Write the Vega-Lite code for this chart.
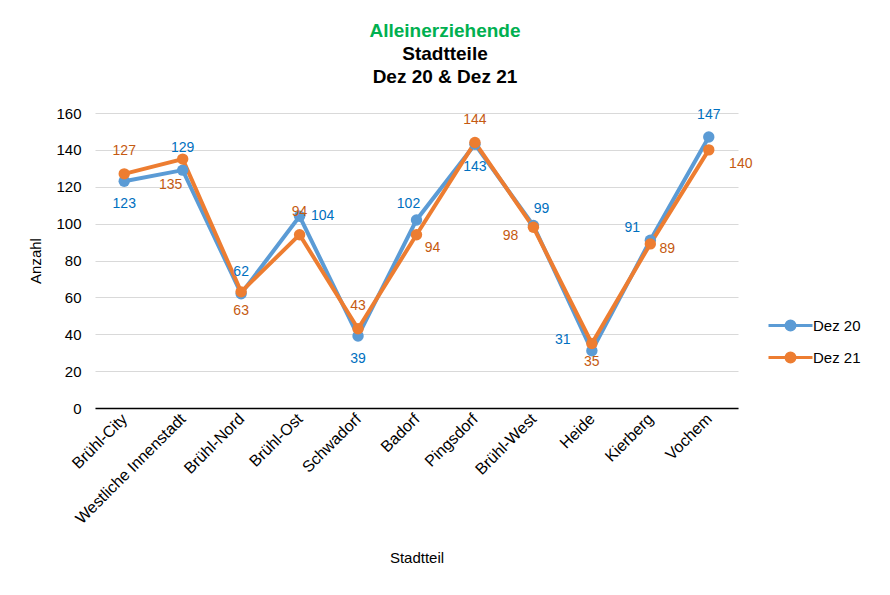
{
  "$schema": "https://vega.github.io/schema/vega-lite/v6.json",
  "width": 643,
  "height": 295,
  "autosize": "none",
  "padding": {"left": 95, "top": 113, "right": 152, "bottom": 187},
  "background": "white",
  "title": {
    "text": "Alleinerziehende",
    "subtitle": ["Stadtteile", "Dez 20 & Dez 21"],
    "color": "#00B050",
    "fontSize": 19,
    "font": "Liberation Sans",
    "fontWeight": "bold",
    "subtitleColor": "#000000",
    "subtitleFontSize": 19,
    "subtitleFont": "Liberation Sans",
    "subtitleFontWeight": "bold",
    "subtitleLineHeight": 23,
    "subtitlePadding": 4,
    "anchor": "middle",
    "frame": "bounds",
    "offset": 19
  },
  "config": {
    "font": "Liberation Sans",
    "view": {"stroke": null},
    "axis": {"labelFont": "Liberation Sans", "titleFont": "Liberation Sans", "labelFontSize": 15, "titleFontSize": 15, "titleFontWeight": "normal", "labelColor": "#000000", "titleColor": "#000000"},
    "legend": {"labelFont": "Liberation Sans", "labelFontSize": 15, "labelColor": "#000000"}
  },
  "data": {
    "values": [
      {"Stadtteil": "Brühl-City", "Jahr": "Dez 20", "Anzahl": 123},
      {"Stadtteil": "Westliche Innenstadt", "Jahr": "Dez 20", "Anzahl": 129},
      {"Stadtteil": "Brühl-Nord", "Jahr": "Dez 20", "Anzahl": 62},
      {"Stadtteil": "Brühl-Ost", "Jahr": "Dez 20", "Anzahl": 104},
      {"Stadtteil": "Schwadorf", "Jahr": "Dez 20", "Anzahl": 39},
      {"Stadtteil": "Badorf", "Jahr": "Dez 20", "Anzahl": 102},
      {"Stadtteil": "Pingsdorf", "Jahr": "Dez 20", "Anzahl": 143},
      {"Stadtteil": "Brühl-West", "Jahr": "Dez 20", "Anzahl": 99},
      {"Stadtteil": "Heide", "Jahr": "Dez 20", "Anzahl": 31},
      {"Stadtteil": "Kierberg", "Jahr": "Dez 20", "Anzahl": 91},
      {"Stadtteil": "Vochem", "Jahr": "Dez 20", "Anzahl": 147},
      {"Stadtteil": "Brühl-City", "Jahr": "Dez 21", "Anzahl": 127},
      {"Stadtteil": "Westliche Innenstadt", "Jahr": "Dez 21", "Anzahl": 135},
      {"Stadtteil": "Brühl-Nord", "Jahr": "Dez 21", "Anzahl": 63},
      {"Stadtteil": "Brühl-Ost", "Jahr": "Dez 21", "Anzahl": 94},
      {"Stadtteil": "Schwadorf", "Jahr": "Dez 21", "Anzahl": 43},
      {"Stadtteil": "Badorf", "Jahr": "Dez 21", "Anzahl": 94},
      {"Stadtteil": "Pingsdorf", "Jahr": "Dez 21", "Anzahl": 144},
      {"Stadtteil": "Brühl-West", "Jahr": "Dez 21", "Anzahl": 98},
      {"Stadtteil": "Heide", "Jahr": "Dez 21", "Anzahl": 35},
      {"Stadtteil": "Kierberg", "Jahr": "Dez 21", "Anzahl": 89},
      {"Stadtteil": "Vochem", "Jahr": "Dez 21", "Anzahl": 140}
    ]
  },
  "encoding": {
    "x": {
      "field": "Stadtteil",
      "type": "nominal",
      "sort": ["Brühl-City", "Westliche Innenstadt", "Brühl-Nord", "Brühl-Ost", "Schwadorf", "Badorf", "Pingsdorf", "Brühl-West", "Heide", "Kierberg", "Vochem"],
      "scale": {"type": "point", "padding": 0.5},
      "axis": {"title": "Stadtteil", "labelAngle": -45, "labelAlign": "right", "labelBaseline": "middle", "labelFontSize": 16, "ticks": false, "labelPadding": 8, "domainColor": "#000000", "domainWidth": 1.5, "titlePadding": 24, "grid": false}
    },
    "y": {
      "field": "Anzahl",
      "type": "quantitative",
      "scale": {"domain": [0, 160]},
      "axis": {"title": "Anzahl", "values": [0, 20, 40, 60, 80, 100, 120, 140, 160], "domain": false, "ticks": false, "labelPadding": 14, "gridColor": "#D9D9D9", "gridWidth": 1, "titlePadding": 12}
    }
  },
  "layer": [
    {
      "mark": {"type": "line", "strokeWidth": 4, "point": {"filled": true, "size": 130}},
      "encoding": {
        "color": {
          "field": "Jahr",
          "type": "nominal",
          "scale": {"domain": ["Dez 20", "Dez 21"], "range": ["#5B9BD5", "#ED7D31"]},
          "legend": {
            "orient": "none",
            "legendX": 678,
            "legendY": 195,
            "title": null,
            "symbolType": "M-1.375,0H1.375M0.28,0A0.28,0.28,0,1,1,-0.28,0A0.28,0.28,0,1,1,0.28,0Z",
            "symbolSize": 1024,
            "symbolStrokeWidth": 3,
            "rowPadding": 4,
            "labelOffset": 5,
            "encode": {"symbols": {"update": {"fill": {"scale": "color", "field": "value"}}}}
          }
        }
      }
    },
    {"transform": [{"filter": "datum.Jahr === 'Dez 20' && indexof(['Westliche Innenstadt','Brühl-Nord','Vochem'], datum.Stadtteil) >= 0"}],
     "mark": {"type": "text", "fontSize": 14, "color": "#0070C0", "dy": -22}, "encoding": {"text": {"field": "Anzahl"}}},
    {"transform": [{"filter": "datum.Jahr === 'Dez 20' && indexof(['Brühl-City','Schwadorf','Pingsdorf'], datum.Stadtteil) >= 0"}],
     "mark": {"type": "text", "fontSize": 14, "color": "#0070C0", "dy": 23}, "encoding": {"text": {"field": "Anzahl"}}},
    {"transform": [{"filter": "datum.Jahr === 'Dez 20' && datum.Stadtteil === 'Brühl-Ost'"}],
     "mark": {"type": "text", "fontSize": 14, "color": "#0070C0", "dx": 23, "dy": 0}, "encoding": {"text": {"field": "Anzahl"}}},
    {"transform": [{"filter": "datum.Jahr === 'Dez 20' && datum.Stadtteil === 'Badorf'"}],
     "mark": {"type": "text", "fontSize": 14, "color": "#0070C0", "dx": -8, "dy": -16}, "encoding": {"text": {"field": "Anzahl"}}},
    {"transform": [{"filter": "datum.Jahr === 'Dez 20' && datum.Stadtteil === 'Brühl-West'"}],
     "mark": {"type": "text", "fontSize": 14, "color": "#0070C0", "dx": 8, "dy": -16}, "encoding": {"text": {"field": "Anzahl"}}},
    {"transform": [{"filter": "datum.Jahr === 'Dez 20' && datum.Stadtteil === 'Heide'"}],
     "mark": {"type": "text", "fontSize": 14, "color": "#0070C0", "dx": -29, "dy": -11}, "encoding": {"text": {"field": "Anzahl"}}},
    {"transform": [{"filter": "datum.Jahr === 'Dez 20' && datum.Stadtteil === 'Kierberg'"}],
     "mark": {"type": "text", "fontSize": 14, "color": "#0070C0", "dx": -18, "dy": -12}, "encoding": {"text": {"field": "Anzahl"}}},
    {"transform": [{"filter": "datum.Jahr === 'Dez 21' && indexof(['Brühl-City','Brühl-Ost','Schwadorf','Pingsdorf'], datum.Stadtteil) >= 0"}],
     "mark": {"type": "text", "fontSize": 14, "color": "#C55A11", "dy": -23}, "encoding": {"text": {"field": "Anzahl"}}},
    {"transform": [{"filter": "datum.Jahr === 'Dez 21' && indexof(['Brühl-Nord','Heide'], datum.Stadtteil) >= 0"}],
     "mark": {"type": "text", "fontSize": 14, "color": "#C55A11", "dy": 19}, "encoding": {"text": {"field": "Anzahl"}}},
    {"transform": [{"filter": "datum.Jahr === 'Dez 21' && datum.Stadtteil === 'Westliche Innenstadt'"}],
     "mark": {"type": "text", "fontSize": 14, "color": "#C55A11", "dx": -12, "dy": 26}, "encoding": {"text": {"field": "Anzahl"}}},
    {"transform": [{"filter": "datum.Jahr === 'Dez 21' && datum.Stadtteil === 'Badorf'"}],
     "mark": {"type": "text", "fontSize": 14, "color": "#C55A11", "dx": 16, "dy": 13}, "encoding": {"text": {"field": "Anzahl"}}},
    {"transform": [{"filter": "datum.Jahr === 'Dez 21' && datum.Stadtteil === 'Kierberg'"}],
     "mark": {"type": "text", "fontSize": 14, "color": "#C55A11", "dx": 17, "dy": 5}, "encoding": {"text": {"field": "Anzahl"}}},
    {"transform": [{"filter": "datum.Jahr === 'Dez 21' && datum.Stadtteil === 'Vochem'"}],
     "mark": {"type": "text", "fontSize": 14, "color": "#C55A11", "dx": 32, "dy": 14}, "encoding": {"text": {"field": "Anzahl"}}},
    {"transform": [{"filter": "datum.Jahr === 'Dez 21' && datum.Stadtteil === 'Brühl-West'"}],
     "mark": {"type": "text", "fontSize": 14, "color": "#C55A11", "dx": -23, "dy": 9}, "encoding": {"text": {"field": "Anzahl"}}}
  ]
}
